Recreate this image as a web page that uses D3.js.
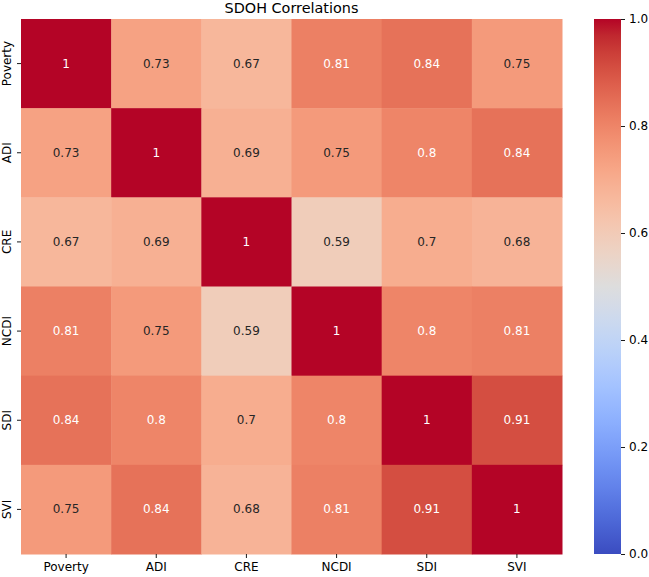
<!DOCTYPE html>
<html>
<head>
<meta charset="utf-8">
<script src="https://cdn.jsdelivr.net/npm/d3@7"></script>
<style>
  html, body { margin: 0; padding: 0; background: #fff; }
  svg { display: block; font-family: "DejaVu Sans", sans-serif; }
</style>
</head>
<body>
<svg id="chart" width="649" height="577"></svg>
<script>
const title = "SDOH Correlations";
const categories = ["Poverty", "ADI", "CRE", "NCDI", "SDI", "SVI"];
const rowPoverty = [1, 0.73, 0.67, 0.81, 0.84, 0.75];
const rowADI     = [0.73, 1, 0.69, 0.75, 0.8, 0.84];
const rowCRE     = [0.67, 0.69, 1, 0.59, 0.7, 0.68];
const rowNCDI    = [0.81, 0.75, 0.59, 1, 0.8, 0.81];
const rowSDI     = [0.84, 0.8, 0.7, 0.8, 1, 0.91];
const rowSVI     = [0.75, 0.84, 0.68, 0.81, 0.91, 1];
const matrix = [rowPoverty, rowADI, rowCRE, rowNCDI, rowSDI, rowSVI];
const colorbarTicks = [0.0, 0.2, 0.4, 0.6, 0.8, 1.0];

// matplotlib "coolwarm" anchor colours (Moreland)
const coolwarm = [
  [59,76,192],[68,90,204],[77,104,215],[87,117,225],[98,130,234],[108,142,241],
  [119,154,247],[130,165,251],[141,176,254],[152,185,255],[163,194,255],[174,201,253],
  [184,208,249],[194,213,244],[204,217,238],[213,219,230],[221,221,221],[229,216,209],
  [236,211,197],[241,204,185],[245,196,173],[247,187,160],[247,177,148],[247,166,135],
  [244,154,123],[241,141,111],[236,127,99],[229,112,88],[222,96,77],[213,80,66],
  [203,62,56],[192,40,47],[180,4,38]
];

(function () {
const cmap = d3.scaleLinear()
  .domain(coolwarm.map((_, i) => i / (coolwarm.length - 1)))
  .range(coolwarm.map(c => `rgb(${c[0]},${c[1]},${c[2]})`))
  .interpolate(d3.interpolateRgb)
  .clamp(true);
const color = v => cmap((v - 0) / (1 - 0));

function luminance(c) {
  const rgb = d3.rgb(c);
  const f = x => { x /= 255; return x <= 0.03928 ? x / 12.92 : Math.pow((x + 0.055) / 1.055, 2.4); };
  return 0.2126 * f(rgb.r) + 0.7152 * f(rgb.g) + 0.0722 * f(rgb.b);
}

const svg = d3.select("#chart");
const mLeft = 21, mRight = 562, mTop = 19, mBottom = 554;

const x = d3.scaleBand().domain(categories).range([mLeft, mRight]).padding(0);
const y = d3.scaleBand().domain(categories).range([mTop, mBottom]).padding(0);

const cells = [];
matrix.forEach((row, i) => row.forEach((v, j) => cells.push({ r: categories[i], c: categories[j], v })));

svg.append("g").selectAll("rect").data(cells).join("rect")
  .attr("x", d => x(d.c))
  .attr("y", d => y(d.r))
  .attr("width", x.bandwidth() + 0.5)
  .attr("height", y.bandwidth() + 0.5)
  .attr("fill", d => color(d.v));

svg.append("g").selectAll("text").data(cells).join("text")
  .attr("x", d => x(d.c) + x.bandwidth() / 2)
  .attr("y", d => y(d.r) + y.bandwidth() / 2)
  .attr("text-anchor", "middle")
  .attr("dominant-baseline", "central")
  .attr("font-size", 12)
  .attr("fill", d => luminance(color(d.v)) > 0.408 ? "#262626" : "#ffffff")
  .text(d => String(d.v));

// axes
const xAxis = svg.append("g")
  .attr("transform", `translate(0,${mBottom})`)
  .call(d3.axisBottom(x).tickSize(4).tickPadding(4));
xAxis.select(".domain").remove();
xAxis.selectAll("text").attr("font-size", 12).attr("fill", "#000").attr("font-family", "DejaVu Sans");
xAxis.selectAll("line").attr("stroke", "#000").attr("stroke-width", 0.9);

const yAxis = svg.append("g")
  .attr("transform", `translate(${mLeft},0)`)
  .call(d3.axisLeft(y).tickSize(4).tickPadding(4));
yAxis.select(".domain").remove();
yAxis.selectAll("line").attr("stroke", "#000").attr("stroke-width", 0.9);
yAxis.selectAll("text")
  .attr("font-size", 12).attr("fill", "#000").attr("font-family", "DejaVu Sans")
  .attr("x", null)
  .attr("text-anchor", "middle")
  .attr("transform", "translate(-10,0) rotate(-90)")
  .attr("dy", "0");

// title
svg.append("text")
  .attr("x", (mLeft + mRight) / 2)
  .attr("y", 13)
  .attr("text-anchor", "middle")
  .attr("font-size", 14.4)
  .attr("fill", "#000")
  .text(title);

// colorbar
const cbX = 594, cbW = 27;
const cbScale = d3.scaleLinear().domain([0, 1]).range([mBottom, mTop]);
const defs = svg.append("defs");
const grad = defs.append("linearGradient").attr("id", "cbgrad")
  .attr("x1", 0).attr("y1", 1).attr("x2", 0).attr("y2", 0);
grad.selectAll("stop").data(coolwarm).join("stop")
  .attr("offset", (_, i) => i / (coolwarm.length - 1))
  .attr("stop-color", c => `rgb(${c[0]},${c[1]},${c[2]})`);
svg.append("rect")
  .attr("x", cbX).attr("y", mTop)
  .attr("width", cbW).attr("height", mBottom - mTop)
  .attr("fill", "url(#cbgrad)");
const cbAxis = svg.append("g")
  .attr("transform", `translate(${cbX + cbW},0)`)
  .call(d3.axisRight(cbScale).tickValues(colorbarTicks).tickFormat(d3.format(".1f")).tickSize(4).tickPadding(4));
cbAxis.select(".domain").remove();
cbAxis.selectAll("text").attr("font-size", 12).attr("fill", "#000").attr("font-family", "DejaVu Sans");
cbAxis.selectAll("line").attr("stroke", "#000").attr("stroke-width", 0.9);
})();
</script>
</body>
</html>
